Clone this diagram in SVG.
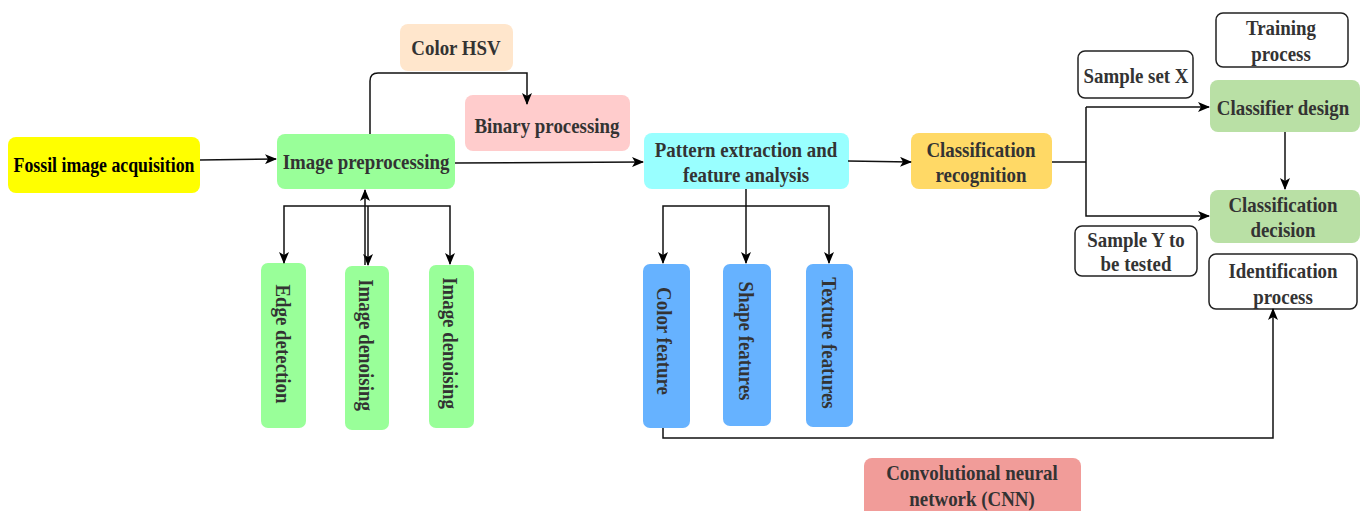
<svg xmlns="http://www.w3.org/2000/svg" width="1364" height="511" viewBox="0 0 1364 511">
<style>
text{font-family:"Liberation Serif","Times New Roman",serif;font-weight:bold;font-size:21px;fill:#333;text-anchor:middle;dominant-baseline:central}
.b{fill:#000;font-size:20px}
.w{fill:#fff;stroke:#222;stroke-width:1.5}
.c{fill:none;stroke:#111;stroke-width:1.5}
</style>
<defs>
<marker id="ar" viewBox="0 0 12 10" refX="11" refY="5" markerWidth="12" markerHeight="10" markerUnits="userSpaceOnUse" orient="auto">
<path d="M0,0 L12,5 L0,10 L3,5 z" fill="#000"/>
</marker>
</defs>
<g id="fossil"><rect x="8" y="137" width="192" height="56" rx="8" fill="#ffff00"/><text class="b" transform="translate(104,165) scale(0.89,1)">Fossil image acquisition</text></g>
<g id="preproc"><rect x="277" y="134" width="178" height="55" rx="8" fill="#99ff99"/><text transform="translate(366,162) scale(0.9,1)">Image preprocessing</text></g>
<g id="hsv"><rect x="400" y="24" width="113" height="47" rx="8" fill="#ffe6cc"/><text transform="translate(456,48) scale(0.9,1)">Color HSV</text></g>
<g id="binary"><rect x="465" y="95" width="165" height="56" rx="8" fill="#ffcccc"/><text transform="translate(547,126) scale(0.9,1)">Binary processing</text></g>
<g id="edge"><rect x="261" y="263" width="45" height="165" rx="7" fill="#99ff99"/><text transform="translate(283,344) rotate(90) scale(0.9,1)">Edge detection</text></g>
<g id="denoise1"><rect x="345" y="266" width="44" height="164" rx="7" fill="#99ff99"/><text transform="translate(366,345) rotate(90) scale(0.9,1)">Image denoising</text></g>
<g id="denoise2"><rect x="429" y="265" width="45" height="163" rx="7" fill="#99ff99"/><text transform="translate(450,343) rotate(90) scale(0.9,1)">Image denoising</text></g>
<g id="pattern"><rect x="644" y="133" width="205" height="56" rx="8" fill="#99ffff"/><text transform="translate(746,150) scale(0.9,1)">Pattern extraction and</text><text transform="translate(746,175) scale(0.9,1)">feature analysis</text></g>
<g id="colorf"><rect x="643" y="264" width="47" height="164" rx="7" fill="#66b2ff"/><text transform="translate(664,341) rotate(90) scale(0.9,1)">Color feature</text></g>
<g id="shapef"><rect x="723" y="264" width="48" height="162" rx="7" fill="#66b2ff"/><text transform="translate(746,341) rotate(90) scale(0.9,1)">Shape features</text></g>
<g id="texturef"><rect x="806" y="264" width="47" height="163" rx="7" fill="#66b2ff"/><text transform="translate(829,343) rotate(90) scale(0.9,1)">Texture features</text></g>
<g id="classrec"><rect x="911" y="133" width="141" height="56" rx="8" fill="#ffd966"/><text transform="translate(981,150) scale(0.9,1)">Classification</text><text transform="translate(981,175) scale(0.9,1)">recognition</text></g>
<g id="training"><rect class="w" x="1216" y="13" width="132" height="54" rx="7"/><text transform="translate(1281,28) scale(0.9,1)">Training</text><text transform="translate(1281,54) scale(0.9,1)">process</text></g>
<g id="samplex"><rect class="w" x="1078" y="51" width="115" height="47" rx="7"/><text transform="translate(1136,76) scale(0.9,1)">Sample set X</text></g>
<g id="classifier"><rect x="1210" y="80" width="150" height="52" rx="8" fill="#b9e0a5"/><text transform="translate(1283,108) scale(0.9,1)">Classifier design</text></g>
<g id="decision"><rect x="1210" y="190" width="150" height="53" rx="8" fill="#b9e0a5"/><text transform="translate(1283,205) scale(0.9,1)">Classification</text><text transform="translate(1283,230) scale(0.9,1)">decision</text></g>
<g id="sampley"><rect class="w" x="1075" y="226" width="122" height="50" rx="7"/><text transform="translate(1136,240) scale(0.9,1)">Sample Y to</text><text transform="translate(1136,264) scale(0.9,1)">be tested</text></g>
<g id="ident"><rect class="w" x="1209" y="254" width="148" height="55" rx="7"/><text transform="translate(1283,271) scale(0.9,1)">Identification</text><text transform="translate(1283,297) scale(0.9,1)">process</text></g>
<g id="cnn"><rect x="864" y="458" width="217" height="60" rx="8" fill="#f19c99"/><text transform="translate(972,473) scale(0.9,1)">Convolutional neural</text><text transform="translate(972,499) scale(0.9,1)">network (CNN)</text></g>
<g id="connectors">
<path class="c" d="M200,160 L276,159" marker-end="url(#ar)"/>
<path class="c" d="M455,163 L643,162" marker-end="url(#ar)"/>
<path class="c" d="M370,134 V81 Q370,73 378,73 H527 V104" marker-end="url(#ar)"/>
<path class="c" d="M367,206 H284 V263" marker-end="url(#ar)"/>
<path class="c" d="M367,206 H450 V264" marker-end="url(#ar)"/>
<path class="c" d="M368,206 V265" marker-end="url(#ar)"/>
<path class="c" d="M365,265 V190" marker-end="url(#ar)"/>
<path class="c" d="M746,189 V263" marker-end="url(#ar)"/>
<path class="c" d="M746,206 H663 V263" marker-end="url(#ar)"/>
<path class="c" d="M746,206 H829 V263" marker-end="url(#ar)"/>
<path class="c" d="M848,161 L911,162" marker-end="url(#ar)"/>
<path class="c" d="M1052,162 H1086"/>
<path class="c" d="M1086,107 H1209" marker-end="url(#ar)"/>
<path class="c" d="M1086,107 V216 H1209" marker-end="url(#ar)"/>
<path class="c" d="M1285,132 V189" marker-end="url(#ar)"/>
<path class="c" d="M663,428 V438 H1273 V309" marker-end="url(#ar)"/>
</g>
</svg>
